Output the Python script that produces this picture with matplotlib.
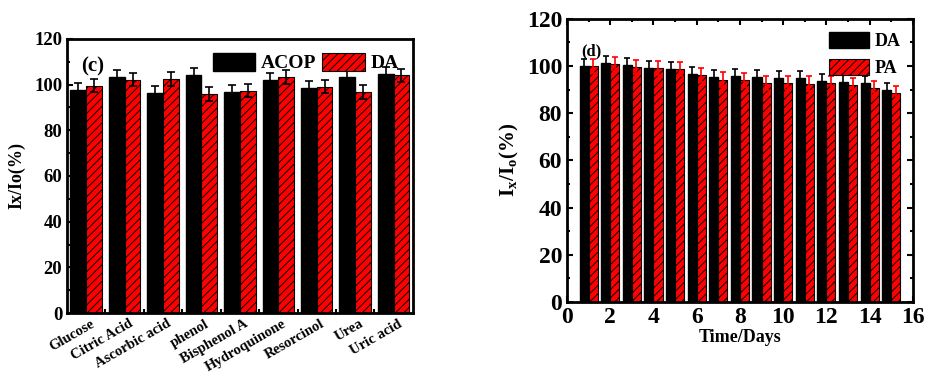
import matplotlib
matplotlib.use("Agg")
import matplotlib.pyplot as plt
from matplotlib.ticker import MultipleLocator, FixedLocator
import numpy as np

plt.rcParams["font.family"] = ["Liberation Serif", "DejaVu Serif"]
plt.rcParams["font.weight"] = "bold"
plt.rcParams["hatch.linewidth"] = 0.7
plt.rcParams["mathtext.fontset"] = "custom"
plt.rcParams["mathtext.rm"] = "Liberation Serif:bold"
plt.rcParams["mathtext.bf"] = "Liberation Serif:bold"

# panel (c): interference
species = ["Glucose", "Citric Acid", "Ascorbic acid", "phenol", "Bisphenol A",
           "Hydroquinone", "Resorcinol", "Urea", "Uric acid"]
acop = [97.8, 103.4, 96.3, 104.1, 96.9, 102.2, 98.7, 103.4, 104.6]
acop_err = [3.0, 3.0, 3.0, 3.0, 3.0, 3.0, 3.0, 3.0, 3.0]
da_c = [99.6, 102.2, 102.6, 96.0, 97.4, 103.4, 99.1, 96.8, 104.0]
da_c_err = [3.0, 3.0, 3.0, 3.0, 3.0, 3.0, 3.0, 3.0, 3.0]

# panel (d): stability
days = list(range(1, 16))
da_d = [100.0, 101.3, 100.6, 99.1, 98.7, 96.5, 95.2, 95.7, 95.2, 95.1, 94.8, 93.6, 93.2, 93.0, 90.0]
da_d_err = [3.0] * 15
pa_d = [100.0, 100.9, 99.6, 99.1, 98.7, 96.2, 94.3, 94.2, 93.0, 92.9, 92.6, 92.8, 92.0, 90.7, 88.6]
pa_d_err = [3.0] * 15

fig = plt.figure(figsize=(9.27, 3.74), dpi=100)
ax1 = fig.add_axes([0.0723, 0.163, 0.373, 0.733])
ax2 = fig.add_axes([0.6117, 0.1925, 0.373, 0.757])

w = 0.41
x = np.arange(1, len(species) + 1)
ax1.bar(x - w / 2, acop, w, color="black", edgecolor="black", label="ACOP",
        yerr=acop_err, error_kw=dict(ecolor="black", capsize=3, elinewidth=1.2, capthick=1.2))
ax1.bar(x + w / 2, da_c, w, color="red", edgecolor="black", hatch="////", linewidth=0.8,
        label="DA", yerr=da_c_err,
        error_kw=dict(ecolor="black", capsize=3, elinewidth=1.2, capthick=1.2))
ax1.set_xlim(0.5, len(species) + 0.5)
ax1.set_ylim(0, 120)
ax1.set_xticks(x + 0.1)
ax1.set_xticklabels(species, rotation=30, ha="right", rotation_mode="anchor", fontsize=10.5)
ax1.xaxis.set_minor_locator(FixedLocator(x[:-1] + 0.5))
ax1.tick_params(axis="x", which="major", length=0, pad=3)
ax1.tick_params(axis="x", which="minor", direction="in", length=3, width=1.5)
ax1.yaxis.set_major_locator(MultipleLocator(20))
ax1.yaxis.set_minor_locator(MultipleLocator(10))
ax1.tick_params(axis="y", which="both", direction="in", width=1.5, labelsize=13.5)
ax1.tick_params(axis="y", which="major", length=4)
ax1.tick_params(axis="y", which="minor", length=2)
ax1.set_ylabel("Ix/Io(%)", fontsize=13, fontweight="bold", labelpad=6)
ax1.text(0.04, 0.88, "(c)", transform=ax1.transAxes, fontsize=15, fontweight="bold")
ax1.legend(loc="upper right", ncol=2, frameon=False, fontsize=14, handlelength=2.2,
           handleheight=1.1, columnspacing=0.3, handletextpad=0.3, borderaxespad=0.3)
for s in ax1.spines.values():
    s.set_linewidth(2)

wd = 0.42
d = np.array(days)
ax2.bar(d - wd / 2, da_d, wd, color="black", edgecolor="black", label="DA",
        yerr=da_d_err, error_kw=dict(ecolor="black", capsize=2.5, elinewidth=1.2, capthick=1.2))
ax2.bar(d + wd / 2, pa_d, wd, color="red", edgecolor="black", hatch="////", linewidth=0.8,
        label="PA", yerr=pa_d_err,
        error_kw=dict(ecolor="red", capsize=2.5, elinewidth=1.2, capthick=1.2))
ax2.set_xlim(0, 16)
ax2.set_ylim(0, 120)
ax2.xaxis.set_major_locator(MultipleLocator(2))
ax2.xaxis.set_minor_locator(MultipleLocator(1))
ax2.yaxis.set_major_locator(MultipleLocator(20))
ax2.yaxis.set_minor_locator(MultipleLocator(10))
ax2.tick_params(which="both", direction="in", top=True, right=True, width=1.5, labelsize=17)
ax2.tick_params(which="major", length=4)
ax2.tick_params(which="minor", length=2)
ax2.set_xlabel("Time/Days", fontsize=13, fontweight="bold", labelpad=1)
ax2.set_ylabel("I$_\\mathbf{x}$/I$_\\mathbf{o}$(%)", fontsize=15, fontweight="bold")
ax2.text(0.04, 0.87, "(d)", transform=ax2.transAxes, fontsize=12, fontweight="bold")
ax2.legend(loc="upper right", frameon=False, fontsize=13, handlelength=2.2,
           handleheight=1.0, handletextpad=0.3, labelspacing=0.5, borderaxespad=0.3)
for s in ax2.spines.values():
    s.set_linewidth(2)

fig.savefig("out.png", dpi=100)
